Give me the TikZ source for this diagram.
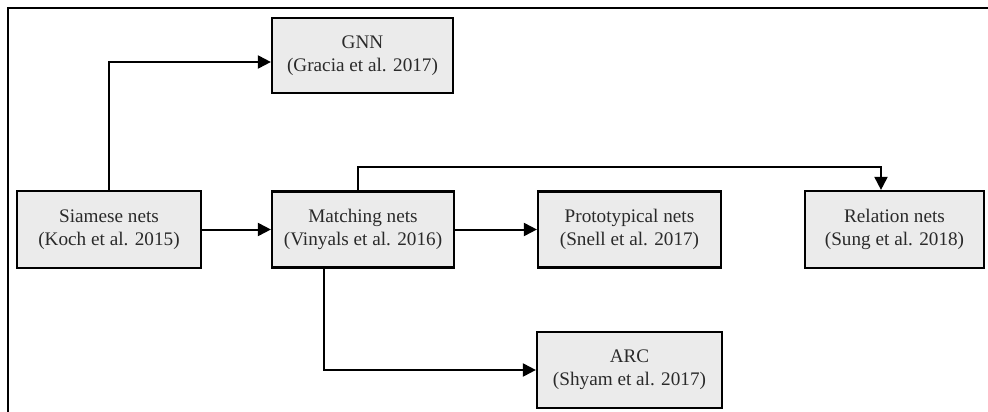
\documentclass[tikz,border=0pt]{standalone}
\usepackage{fontspec}
\setmainfont{Liberation Serif}
\usetikzlibrary{arrows.meta,calc}

\definecolor{boxfill}{HTML}{EBEBEB}
\definecolor{inkgray}{HTML}{2A2A2A}

\tikzset{
  model/.style={draw=black, fill=boxfill, line width=2.2pt, align=center,
    inner sep=0pt, text=inkgray,
    font=\rmfamily\fontsize{19.2pt}{23pt}\selectfont},
  link/.style={line width=2pt, -{Triangle[length=13pt,width=13pt]}},
  frameline/.style={line width=2.2pt}
}

\begin{document}
\begin{tikzpicture}[x=1pt, y=-1pt]
  \useasboundingbox (0,0) rectangle (988,412);

  % frame edges
  \draw[frameline] (8,412) -- (8,8) -- (988,8);

  % models
  \node[model, minimum width=184pt, minimum height=77pt] (sia) at (109,229.5)
    {Siamese nets\\(Koch et al. 2015)};
  \node[model, minimum width=182pt, minimum height=76pt] (mat) at (363,229.5)
    {Matching nets\\(Vinyals et al. 2016)};
  \node[model, minimum width=183pt, minimum height=76pt] (pro) at (629.5,229.5)
    {Prototypical nets\\(Snell et al. 2017)};
  \node[model, minimum width=179pt, minimum height=77pt] (rel) at (894.5,229.5)
    {Relation nets\\(Sung et al. 2018)};
  \node[model, minimum width=181pt, minimum height=75pt] (gnn) at (362.5,55.5)
    {GNN\\(Gracia et al. 2017)};
  \node[model, minimum width=185pt, minimum height=76pt] (arc) at (629.5,370)
    {ARC\\(Shyam et al. 2017)};

  % connector anchors
  \coordinate (gnnin) at ($(gnn.west)+(0,6.5)$);
  \coordinate (matup) at ($(mat.north)+(-5,0)$);
  \coordinate (relin) at ($(rel.north)+(-13.5,0)$);
  \coordinate (matdown) at ($(mat.south)+(-39,0)$);

  % connectors
  \draw[link] (sia.north) |- (gnnin);
  \draw[link] (sia.east) -- (mat.west);
  \draw[link] (mat.east) -- (pro.west);
  \draw[link] (matup) -- ++(0,-23) -| (relin);
  \draw[link] (matdown) |- (arc.west);
\end{tikzpicture}
\end{document}
